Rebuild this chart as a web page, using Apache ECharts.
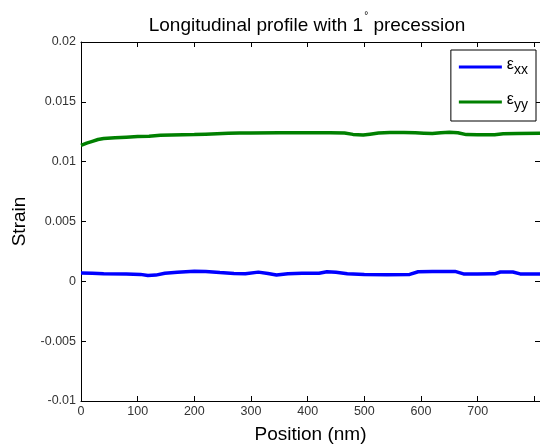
<!DOCTYPE html>
<html>
<head>
<meta charset="utf-8">
<script src="https://cdn.jsdelivr.net/npm/echarts@6/dist/echarts.min.js"></script>
<style>html,body{margin:0;padding:0;background:#fff;}#c{width:540px;height:445px;}</style>
</head>
<body>
<div id="c"></div>
<script>
// Data
var xxPositions = [0, 20, 40, 80, 105, 118, 132, 148, 170, 200, 220, 245, 270, 290, 313, 330, 345, 365, 390, 420, 434, 450, 470, 500, 540, 580, 595, 620, 660, 675, 700, 730, 740, 762, 775, 810];
var xxStrain = [0.00070, 0.00068, 0.00064, 0.00061, 0.00058, 0.00048, 0.00052, 0.00067, 0.00076, 0.00084, 0.00082, 0.00073, 0.00066, 0.00063, 0.00077, 0.00065, 0.00053, 0.00063, 0.00067, 0.00068, 0.00080, 0.00075, 0.00064, 0.00058, 0.00056, 0.00058, 0.00080, 0.00083, 0.00083, 0.00062, 0.00061, 0.00063, 0.00078, 0.00078, 0.00062, 0.00062];
var yyPositions = [0, 10, 20, 30, 40, 60, 80, 100, 120, 140, 160, 180, 200, 220, 240, 260, 280, 300, 350, 400, 440, 465, 480, 498, 510, 525, 545, 570, 590, 605, 620, 635, 650, 665, 680, 700, 730, 745, 770, 810];
var yyStrain = [0.01137, 0.01155, 0.01170, 0.01185, 0.01193, 0.01200, 0.01205, 0.01210, 0.01213, 0.01220, 0.01222, 0.01224, 0.01226, 0.01230, 0.01234, 0.01237, 0.01240, 0.01240, 0.01241, 0.01241, 0.01242, 0.01240, 0.01228, 0.01222, 0.01230, 0.01240, 0.01243, 0.01244, 0.01241, 0.01238, 0.01235, 0.01242, 0.01245, 0.01242, 0.01226, 0.01224, 0.01225, 0.01233, 0.01236, 0.01237];
var seriesNames = ['εxx', 'εyy'];
var seriesSubs = ['xx', 'yy'];
var xTicks = [0, 100, 200, 300, 400, 500, 600, 700];
var yTickLabels = ['-0.01', '-0.005', '0', '0.005', '0.01', '0.015', '0.02'];

function pairs(xs, ys) { return xs.map(function (x, i) { return [x, ys[i]]; }); }

var FONT = 'Liberation Sans, Arial, Helvetica, sans-serif';
var axisLine = { show: true, onZero: false, lineStyle: { color: '#000', width: 1 } };
var tickStyle = { show: true, inside: true, length: 5, lineStyle: { color: '#000', width: 1 } };

var chart = echarts.init(document.getElementById('c'), null, { renderer: 'canvas' });
chart.setOption({
  backgroundColor: '#fff',
  animation: false,
  title: {
    text: '{a|Longitudinal profile with 1}{b|°}{a| precession}',
    left: 302, top: 6, textAlign: 'center',
    textStyle: {
      fontWeight: 'normal',
      rich: {
        a: { fontFamily: FONT, fontSize: 19, fontWeight: 'normal', color: '#000', verticalAlign: 'bottom', lineHeight: 24 },
        b: { fontFamily: FONT, fontSize: 10, fontWeight: 'normal', color: '#000', verticalAlign: 'top', lineHeight: 24, padding: [0, 0, 0, 1] }
      }
    }
  },
  legend: {
    orient: 'vertical', right: 4, top: 50,
    data: seriesNames,
    icon: 'rect', itemWidth: 43, itemHeight: 3, itemGap: 15,
    padding: [7, 8, 9, 8],
    borderColor: '#000', borderWidth: 1, backgroundColor: '#fff',
    formatter: function (name) { var i = seriesNames.indexOf(name); return '{e|ε}{s|' + seriesSubs[i] + '}'; },
    textStyle: {
      rich: {
        e: { fontFamily: FONT, fontSize: 16, color: '#000', verticalAlign: 'top', lineHeight: 20 },
        s: { fontFamily: FONT, fontSize: 14, color: '#000', verticalAlign: 'bottom', lineHeight: 20 }
      }
    }
  },
  grid: { left: 81, right: 0, top: 42, bottom: 44, containLabel: false, outerBoundsMode: 'none' },
  xAxis: [{
    type: 'value', min: 0, max: 810, interval: 100,
    name: 'Position (nm)', nameLocation: 'middle', nameGap: 24,
    nameTextStyle: { fontFamily: FONT, fontSize: 19, color: '#000' },
    axisLine: axisLine, axisTick: tickStyle,
    axisLabel: { fontFamily: FONT, fontSize: 12.5, color: '#333', margin: 4,
      formatter: function (v) { return xTicks.indexOf(v) >= 0 ? String(v) : ''; } },
    splitLine: { show: false }
  }, {
    type: 'value', min: 0, max: 810, interval: 100, position: 'top',
    axisLine: axisLine, axisTick: tickStyle, axisLabel: { show: false }, splitLine: { show: false }
  }],
  yAxis: [{
    type: 'value', min: -0.01, max: 0.02, interval: 0.005,
    name: 'Strain', nameLocation: 'middle', nameGap: 52, nameRotate: 90,
    nameTextStyle: { fontFamily: FONT, fontSize: 19, color: '#000' },
    axisLine: axisLine, axisTick: tickStyle,
    axisLabel: { fontFamily: FONT, fontSize: 12.5, color: '#333', margin: 5,
      formatter: function (v) { var i = Math.round((v + 0.01) / 0.005); return yTickLabels[i] || ''; } },
    splitLine: { show: false }
  }, {
    type: 'value', min: -0.01, max: 0.02, interval: 0.005, position: 'right',
    axisLine: axisLine, axisTick: tickStyle, axisLabel: { show: false }, splitLine: { show: false }
  }],
  series: [{
    name: seriesNames[0], type: 'line', showSymbol: false, symbol: 'none',
    data: pairs(xxPositions, xxStrain),
    lineStyle: { color: '#0000ff', width: 3.5 }, itemStyle: { color: '#0000ff' }
  }, {
    name: seriesNames[1], type: 'line', showSymbol: false, symbol: 'none',
    data: pairs(yyPositions, yyStrain),
    lineStyle: { color: '#008000', width: 3.5 }, itemStyle: { color: '#008000' }
  }]
});
</script>
</body>
</html>
